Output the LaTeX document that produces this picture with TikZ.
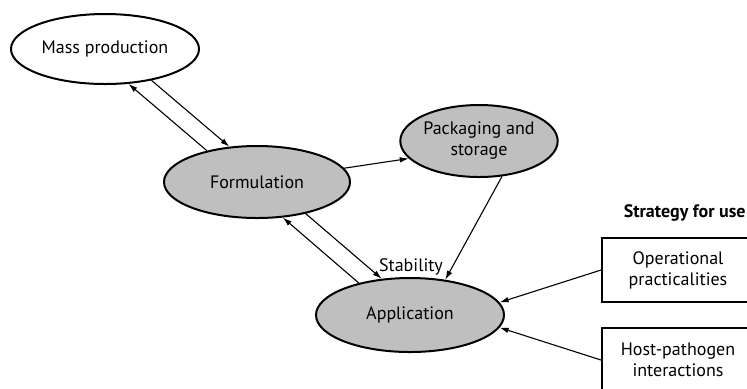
\documentclass[tikz,border=0pt]{standalone}
\usepackage{fontspec}
\setmainfont{PT Sans}
\usetikzlibrary{shapes.geometric,arrows.meta}

\tikzset{
  stage/.style={ellipse, draw, line width=1pt, fill=black!25, inner sep=0pt, align=center},
  plainstage/.style={stage, fill=white},
  usebox/.style={draw, line width=1pt, minimum width=76pt, minimum height=32pt, inner sep=0pt, align=center},
  link/.style={-{Latex[length=4.5pt,width=2.8pt]}, line width=0.55pt},
}

\begin{document}
\begin{tikzpicture}[x=0.5pt,y=-0.5pt,font=\fontsize{9}{10.5}\selectfont]
      \useasboundingbox (0,0) rectangle (747,388);

      % Process stages
      \node[plainstage, minimum width=94pt, minimum height=35pt] (mass) at (105,49) {Mass production};
      \node[stage, minimum width=93pt, minimum height=36pt] (form) at (257,182) {Formulation};
      \node[stage, minimum width=65pt, minimum height=36pt] (pack) at (479,141) {Packaging and\\storage};
      \node[stage, minimum width=94pt, minimum height=37pt] (app) at (410,315) {Application};

      % Strategy for use
      \node[font=\fontsize{9}{10.5}\selectfont\bfseries, anchor=east, inner sep=0pt] (strat) at (746,213) {Strategy for use};
      \node[usebox] (ops) at (678,270) {Operational\\practicalities};
      \node[usebox] (host) at (678,360) {Host-pathogen\\interactions};

      % Label
      \node (stab) at (411,267) {Stability};

      % Links
      \draw[link] (mass.-34) -- (form.128);
      \draw[link] (form.148) -- (mass.-56);
      \draw[link] (form.9) -- (pack.194);
      \draw[link] (pack.-57) -- (app.45);
      \draw[link] (form.-33) -- (app.128);
      \draw[link] (app.148) -- (form.-54);
      \draw[link] (ops.west) -- (app.8);
      \draw[link] (host.west) -- (app.-8);
    \end{tikzpicture}
\end{document}
